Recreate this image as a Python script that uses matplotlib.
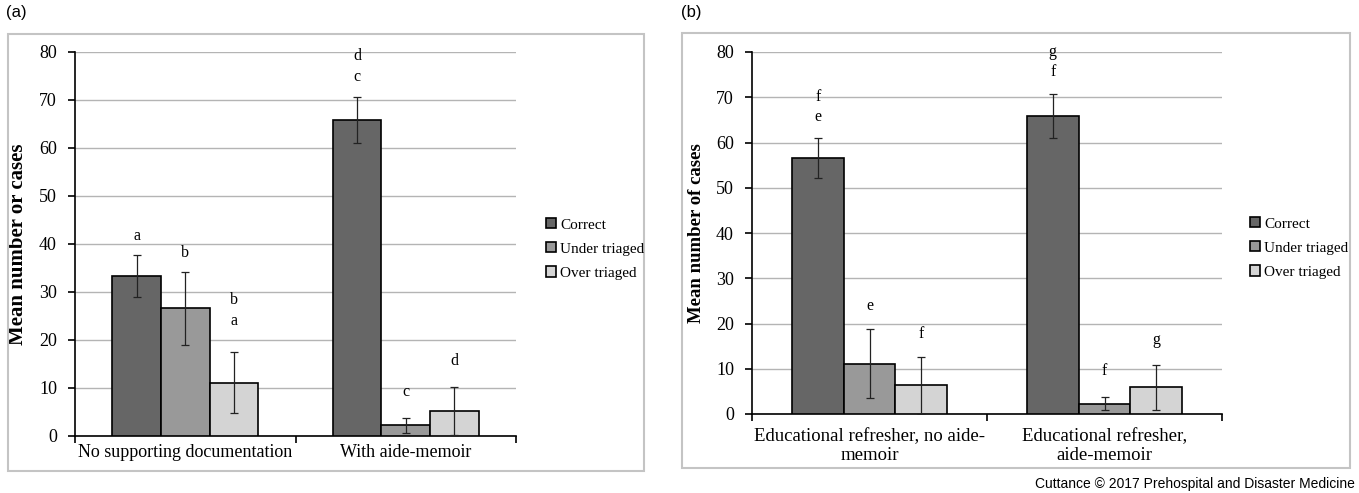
import matplotlib.pyplot as plt
import numpy as np
from matplotlib.patches import Rectangle

# Data
series = ['Correct', 'Under triaged', 'Over triaged']
colors = ['#666666', '#999999', '#d4d4d4']

cats_a = ['No supporting documentation', 'With aide-memoir']
means_a = [[33.3, 65.8], [26.6, 2.2], [11.1, 5.3]]
errs_a = [[4.4, 4.8], [7.6, 1.6], [6.4, 5.0]]
letters_a = [[['a'], ['c', 'd']], [['b'], ['c']], [['a', 'b'], ['d']]]
letter_y_a = [[40.0, 73.2], [36.5, 7.6], [22.2, 13.9]]

cats_b = ['Educational refresher, no aide-\nmemoir', 'Educational refresher,\naide-memoir']
means_b = [[56.6, 65.8], [11.1, 2.3], [6.3, 5.9]]
errs_b = [[4.4, 4.9], [7.6, 1.5], [6.3, 5.0]]
letters_b = [[['e', 'f'], ['f', 'g']], [['e'], ['f']], [['f'], ['g']]]
letter_y_b = [[63.8, 73.8], [22.0, 7.8], [16.0, 14.5]]

W, H = 1359, 493
fig = plt.figure(figsize=(W / 100, H / 100), dpi=100)
serif = 'Liberation Serif'


def px(x0, y0, x1, y1):
    # pixel box -> figure fraction [left, bottom, width, height]
    return [x0 / W, 1 - y1 / H, (x1 - x0) / W, (y1 - y0) / H]


def panel(box, axbox, cats, means, errs, letters, letter_y, ylabel, ylsize, xlsize, xpad, legend_xy):
    fig.patches.append(Rectangle((box[0], box[1]), box[2], box[3], transform=fig.transFigure,
                                 fill=False, edgecolor='#c4c4c4', lw=1.5))
    ax = fig.add_axes(axbox)
    x = np.arange(len(cats))
    width = 0.22
    handles = []
    for i, name in enumerate(series):
        pos = x + (i - 1) * width
        b = ax.bar(pos, means[i], width, color=colors[i], edgecolor='black', linewidth=1.2,
                   label=name, zorder=3)
        ax.errorbar(pos, means[i], yerr=errs[i], fmt='none', ecolor='#222222', elinewidth=0.9,
                    capsize=3, capthick=0.9, zorder=4)
        handles.append(b)
        for j in range(len(cats)):
            for k, let in enumerate(letters[i][j]):
                ax.text(pos[j], letter_y[i][j] + k * 4.4, let, ha='center', va='bottom',
                        fontsize=11.5, family=serif)
    ax.set_xlim(-0.5, len(cats) - 0.5)
    ax.set_ylim(0, 80)
    ax.set_yticks(np.arange(0, 81, 10))
    ax.yaxis.grid(True, color='#b4b4b4', lw=1, zorder=0)
    ax.set_axisbelow(True)
    for s in ['top', 'right']:
        ax.spines[s].set_visible(False)
    ax.spines['left'].set_linewidth(1.2)
    ax.spines['bottom'].set_linewidth(1.2)
    ax.set_xticks(x)
    ax.set_xticklabels(cats, fontsize=xlsize, family=serif, linespacing=1.2)
    ax.set_xticks(np.arange(-0.5, len(cats), 1), minor=True)
    ax.tick_params(axis='x', which='major', length=0, pad=xpad)
    ax.tick_params(axis='x', which='minor', length=5, width=1.2, direction='out')
    ax.tick_params(axis='y', length=5, width=1.2, labelsize=13, pad=8)
    for t in ax.get_yticklabels():
        t.set_family(serif)
    ax.set_ylabel(ylabel, fontsize=ylsize, fontweight='bold', family=serif, labelpad=8)
    leg = fig.legend(handles, series, loc='center left', bbox_to_anchor=legend_xy,
                     frameon=False, prop={'family': serif, 'size': 11},
                     handlelength=0.65, handleheight=0.65, handletextpad=0.3, labelspacing=0.7)
    for h in leg.legend_handles:
        h.set_edgecolor('black')
        h.set_linewidth(1.2)
    return ax


panel(px(8, 34, 644, 471), px(75, 52, 516, 436), cats_a, means_a, errs_a, letters_a,
      letter_y_a, 'Mean number or cases', 15, 13, 6, (532 / W, 1 - 249 / H))
panel(px(682, 33, 1350, 468), px(752, 52, 1222, 414), cats_b, means_b, errs_b, letters_b,
      letter_y_b, 'Mean number of cases', 13.5, 13.5, 10, (1236 / W, 1 - 248 / H))

fig.text(6 / W, 1 - 12 / H, '(a)', ha='left', va='center', fontsize=12, family='Liberation Sans')
fig.text(681 / W, 1 - 12 / H, '(b)', ha='left', va='center', fontsize=12, family='Liberation Sans')
fig.text(1355 / W, 1 - 484 / H, 'Cuttance \u00a9 2017 Prehospital and Disaster Medicine',
         ha='right', va='center', fontsize=10, family='Liberation Sans')

plt.savefig('out.png', dpi=100)
plt.close()
